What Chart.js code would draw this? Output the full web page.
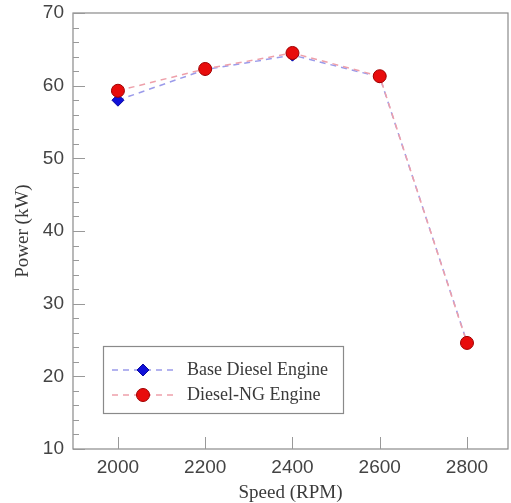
<!DOCTYPE html>
<html><head><meta charset="utf-8">
<script src="https://cdn.jsdelivr.net/npm/chart.js@4/dist/chart.umd.min.js"></script>
<style>html,body{margin:0;padding:0;background:#fff;overflow:hidden}#wrap{width:511px;height:503px}canvas{display:block}</style>
</head><body><div id="wrap"><canvas id="c" width="511" height="503"></canvas></div>
<script>
const speeds = [2000, 2200, 2400, 2600, 2800];
const baseDiesel = [58.0, 62.2, 64.2, 61.2, 24.7];
const dieselNG = [59.3, 62.3, 64.5, 61.3, 24.6];
const xTicks = [2000, 2200, 2400, 2600, 2800];
const yTicks = [10, 20, 30, 40, 50, 60, 70];
const seriesNames = ['Base Diesel Engine', 'Diesel-NG Engine'];

const tickFont = {family: '"Liberation Sans", Arial, sans-serif', size: 19};
const titleFont = {family: '"Liberation Serif", "Times New Roman", serif', size: 19, lineHeight: 1};

const frame = {
  id: 'frame',
  afterDatasetsDraw(chart) {
    const {ctx, chartArea: a, scales} = chart;
    ctx.save();
    ctx.strokeStyle = '#8a8a8a';
    ctx.lineWidth = 1.2;
    ctx.strokeRect(a.left, a.top, a.right - a.left, a.bottom - a.top);
    ctx.lineWidth = 1;
    ctx.strokeStyle = '#999';
    for (let v = 10; v <= 70; v += 2) {
      const y = Math.round(scales.y.getPixelForValue(v)) + 0.5;
      const len = (v % 10 === 0) ? 12 : 6;
      ctx.beginPath(); ctx.moveTo(a.left, y); ctx.lineTo(a.left + len, y); ctx.stroke();
    }
    xTicks.forEach(v => {
      const x = Math.round(scales.x.getPixelForValue(v)) + 0.5;
      ctx.beginPath(); ctx.moveTo(x, a.bottom); ctx.lineTo(x, a.bottom - 12); ctx.stroke();
    });
    // legend
    const lx = 103, ly = 346, lw = 240, lh = 67;
    ctx.fillStyle = '#fff';
    ctx.fillRect(lx, ly, lw, lh);
    ctx.strokeStyle = '#8a8a8a';
    ctx.lineWidth = 1.2;
    ctx.strokeRect(lx + 0.5, ly + 0.5, lw, lh);
    chart.data.datasets.forEach((ds, i) => {
      const yy = ly + 24 + i * 25;
      ctx.save();
      ctx.strokeStyle = ds.borderColor;
      ctx.lineWidth = 1.5;
      ctx.setLineDash([6, 5]);
      ctx.beginPath(); ctx.moveTo(lx + 9, yy); ctx.lineTo(lx + 72, yy); ctx.stroke();
      ctx.restore();
      ctx.fillStyle = ds.pointBackgroundColor;
      ctx.strokeStyle = ds.pointBorderColor;
      ctx.lineWidth = 1;
      const cx = lx + 40;
      if (ds.pointStyle === 'rectRot') {
        ctx.beginPath();
        ctx.moveTo(cx, yy - 6); ctx.lineTo(cx + 6, yy); ctx.lineTo(cx, yy + 6); ctx.lineTo(cx - 6, yy); ctx.closePath();
        ctx.fill(); ctx.stroke();
      } else {
        ctx.beginPath(); ctx.arc(cx, yy, 6.5, 0, Math.PI * 2); ctx.fill(); ctx.stroke();
      }
      ctx.fillStyle = '#3a3a3a';
      ctx.font = '18px "Liberation Serif", "Times New Roman", serif';
      ctx.textBaseline = 'middle';
      ctx.fillText(ds.label, lx + 84, yy);
    });
    ctx.restore();
  }
};

new Chart(document.getElementById('c'), {
  type: 'line',
  data: {
    datasets: [
      {
        label: seriesNames[0],
        order: 2,
        data: speeds.map((s, i) => ({x: s, y: baseDiesel[i]})),
        borderColor: '#9b9bea',
        borderWidth: 1.5,
        borderDash: [6, 5],
        pointStyle: 'rectRot',
        pointRadius: 6,
        pointBackgroundColor: '#1010d8',
        pointBorderColor: '#0a0aa0',
        pointBorderWidth: 1,
        tension: 0
      },
      {
        label: seriesNames[1],
        order: 1,
        data: speeds.map((s, i) => ({x: s, y: dieselNG[i]})),
        borderColor: '#eea0aa',
        borderWidth: 1.5,
        borderDash: [6, 5],
        pointStyle: 'circle',
        pointRadius: 6.5,
        pointBackgroundColor: '#e80c0c',
        pointBorderColor: '#a00000',
        pointBorderWidth: 1,
        tension: 0
      }
    ]
  },
  options: {
    responsive: false,
    animation: false,
    layout: {autoPadding: false, padding: {top: 13, right: 3, left: 0, bottom: 0}},
    plugins: {legend: {display: false}, tooltip: {enabled: false}},
    scales: {
      x: {
        type: 'linear', min: 1897, max: 2894,
        afterBuildTicks: s => { s.ticks = xTicks.map(v => ({value: v})); },
        afterFit: s => { s.height = 54; s.paddingLeft = 0; s.paddingRight = 0; },
        grid: {display: false, drawTicks: false},
        border: {display: false},
        ticks: {font: tickFont, color: '#444', padding: 7, maxRotation: 0, callback: v => String(v)},
        title: {display: true, text: 'Speed (RPM)', font: titleFont, color: '#3a3a3a', padding: {top: 0, bottom: 0}}
      },
      y: {
        type: 'linear', min: 10, max: 70,
        afterBuildTicks: s => { s.ticks = yTicks.map(v => ({value: v})); },
        afterFit: s => { s.width = 73; s.paddingTop = 0; s.paddingBottom = 0; },
        grid: {display: false, drawTicks: false},
        border: {display: false},
        ticks: {font: tickFont, color: '#444', padding: 9},
        title: {display: true, text: 'Power (kW)', font: titleFont, color: '#3a3a3a', padding: {top: 14, bottom: 0}}
      }
    }
  },
  plugins: [frame]
});
</script></body></html>
